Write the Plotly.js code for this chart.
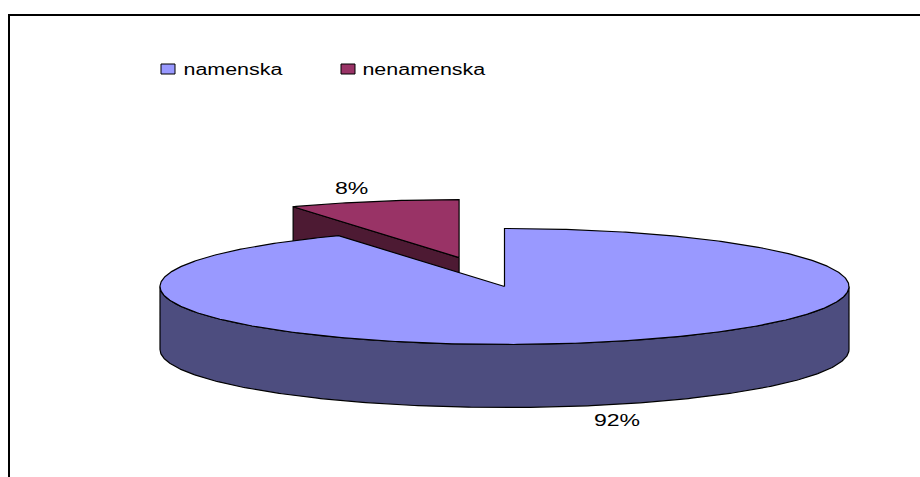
<!DOCTYPE html>
<html><head><meta charset="utf-8">
<script src="https://cdn.plot.ly/plotly-3.0.1.min.js"></script>
<style>html,body{margin:0;padding:0;background:#fff}#c{width:920px;height:477px}</style>
</head><body><div id="c"></div>
<script>
const categories = ['namenska', 'nenamenska'];
const shares = [92, 8];
const topColors = ['#9999ff', '#993366'];
const sideColors = ['#4d4d7f', '#4d1a33'];

const W = 920, H = 477;
const cx = 504.5, cy = 286.5, rx = 344.5, ry = 58, depth = 63, explodeX = 0.53, explodeY = 0.515;
const total = shares.reduce((a, b) => a + b, 0);
const legendStretch = 1.34, labelStretch = 1.44;

function pt(theta, ox, oy, dz) {
  return [ox + rx * Math.sin(theta), oy - ry * Math.cos(theta) + dz];
}
function arc(a0, a1, ox, oy, dz) {
  const n = Math.max(2, Math.ceil(Math.abs(a1 - a0) / 0.01));
  const out = [];
  for (let i = 0; i <= n; i++) out.push(pt(a0 + (a1 - a0) * i / n, ox, oy, dz));
  return out;
}
function poly(points, fill, name) {
  return {
    type: 'scatter', mode: 'lines', fill: 'toself', fillcolor: fill, name: name,
    x: points.map(p => p[0]), y: points.map(p => p[1]),
    line: {color: '#000', width: 1.2}, hoverinfo: 'skip', showlegend: false
  };
}
const TAU = Math.PI * 2;
const a0 = 0, a1 = TAU * shares[0] / total, a2 = TAU;
const mid = (a1 + a2) / 2;
const ox = cx + rx * Math.sin(mid) * explodeX, oy = cy - ry * Math.cos(mid) * explodeY;

const traces = [];
// exploded slice: wall along its cut edge, then wedge top
const e1 = pt(a1, ox, oy, 0);
traces.push(poly([[ox, oy], e1, [e1[0], e1[1] + depth], [ox, oy + depth], [ox, oy]], sideColors[1], categories[1]));
traces.push(poly([[ox, oy], ...arc(a1, a2, ox, oy, 0), [ox, oy]], topColors[1], categories[1]));
// main slice: front rim wall, then wedge top
const front = arc(Math.PI / 2, 3 * Math.PI / 2, cx, cy, 0);
const frontLow = arc(3 * Math.PI / 2, Math.PI / 2, cx, cy, depth);
traces.push(poly([...front, ...frontLow, front[0]], sideColors[0], categories[0]));
traces.push(poly([[cx, cy], ...arc(a0, a1, cx, cy, 0), [cx, cy]], topColors[0], categories[0]));

// value labels
const labelPos = [[617, 420], [351.5, 188]];
const annotations = shares.map((v, i) => ({
  xref: 'x', yref: 'y', x: labelPos[i][0], y: labelPos[i][1], text: v + '%', showarrow: false,
  font: {family: 'Liberation Sans', size: 16, color: '#000'}
}));
// legend
const legendX = [161, 341], legendTextCx = [233, 423.5], legendY = 69;
const shapes = [];
categories.forEach((c, i) => {
  shapes.push({type: 'rect', xref: 'x', yref: 'y', x0: legendX[i], x1: legendX[i] + 14, y0: legendY - 5, y1: legendY + 5,
    fillcolor: topColors[i], line: {color: '#000', width: 1}});
  annotations.push({xref: 'x', yref: 'y', x: legendTextCx[i], y: legendY, text: c, showarrow: false,
    font: {family: 'Liberation Sans', size: 16, color: '#000'}});
});
// chart-area frame (open at right and bottom)
shapes.push({type: 'path', xref: 'x', yref: 'y', path: `M9,${H} L9,15 L${W},15`, line: {color: '#000', width: 2}});

const ax = {visible: false, fixedrange: true};
Plotly.newPlot('c', traces, {
  width: W, height: H, margin: {l: 0, r: 0, t: 0, b: 0}, showlegend: false,
  paper_bgcolor: '#fff', plot_bgcolor: '#fff',
  xaxis: {...ax, range: [0, W]}, yaxis: {...ax, range: [H, 0]},
  annotations, shapes
}, {displayModeBar: false, staticPlot: true}).then(gd => {
  // the reference's text is stretched horizontally
  gd.querySelectorAll('.annotation-text').forEach(t => {
    const k = t.textContent.includes('%') ? labelStretch : legendStretch;
    t.setAttribute('textLength', t.getComputedTextLength() * k);
    t.setAttribute('lengthAdjust', 'spacingAndGlyphs');
  });
});
</script></body></html>
